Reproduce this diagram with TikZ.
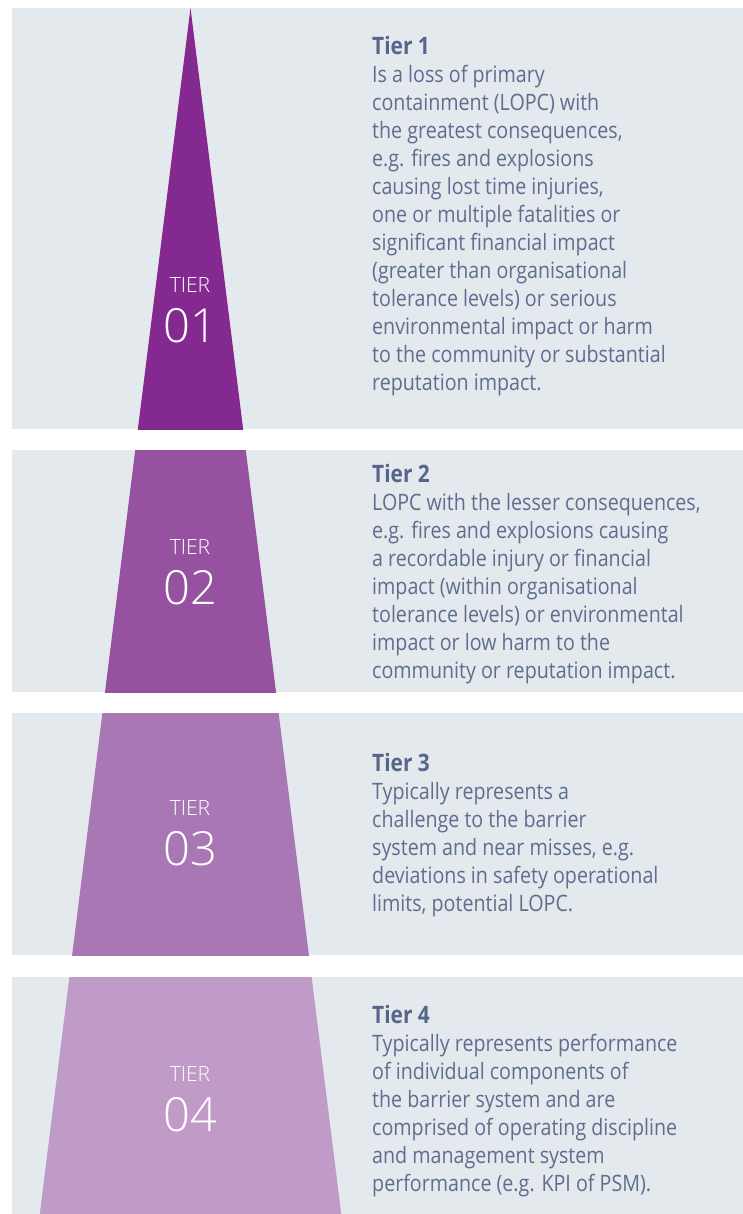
\documentclass[tikz,border=0pt]{standalone}
\usepackage{fontspec}
\setmainfont{Open Sans}[FakeStretch=0.87]
\newfontfamily\tierfont{Open Sans}[UprightFont=* Light]
\usepackage{xcolor}
\usetikzlibrary{calc}

\definecolor{panelgrey}{HTML}{E4E9EE}
\definecolor{tierone}{HTML}{84298F}
\definecolor{tiertwo}{HTML}{9652A0}
\definecolor{tierthree}{HTML}{A877B4}
\definecolor{tierfour}{HTML}{C09BC8}
\definecolor{textblue}{HTML}{5E6E8F}
\definecolor{titleblue}{HTML}{56668A}

\tikzset{
 tiertext/.style={anchor=west, inner sep=0pt, align=left, text=textblue, font=\fontsize{22.6}{28}\selectfont},
 tierword/.style={inner sep=0pt, text=white, font=\tierfont\fontsize{21}{21}\selectfont},
 tiernum/.style={inner sep=0pt, text=white, font=\tierfont\fontsize{47}{47}\selectfont},
}
\newcommand{\tiertitle}[1]{{\fontsize{24}{28}\selectfont\bfseries\color{titleblue}#1}}

\begin{document}
\begin{tikzpicture}[x=1pt, y=-1pt]
\useasboundingbox[fill=white] (0,0) rectangle (743,1214);
\foreach \top/\bot/\col in {8/429/tierone, 450/692/tiertwo, 713/955/tierthree, 977/1214/tierfour} {
 \fill[panelgrey] (12,\top) rectangle (743,\bot);
 \begin{scope}
  \clip (12,\top) rectangle (743,\bot);
  \fill[\col] (190.5,8) -- (39.75,1214) -- (341.25,1214) -- cycle;
 \end{scope}
}

\node[tierword] (word1) at (190,285) {TIER};
\node[tiernum] (num1) at (190,326) {01};
\node[tierword] (word2) at (190,547) {TIER};
\node[tiernum] (num2) at (190,588) {02};
\node[tierword] (word3) at (190,808) {TIER};
\node[tiernum] (num3) at (190,849) {03};
\node[tierword] (word4) at (190,1074) {TIER};
\node[tiernum] (num4) at (190,1115) {04};

\node[tiertext] (desc1) at (372,216) {\tiertitle{Tier 1}\\
Is a loss of primary\\
containment (LOPC) with\\
the greatest consequences,\\
e.g. fires and explosions\\
causing lost time injuries,\\
one or multiple fatalities or\\
significant financial impact\\
(greater than organisational\\
tolerance levels) or serious\\
environmental impact or harm\\
to the community or substantial\\
reputation impact.};
\node[tiertext] (desc2) at (372,574) {\tiertitle{Tier 2}\\
LOPC with the lesser consequences,\\
e.g. fires and explosions causing\\
a recordable injury or financial\\
impact (within organisational\\
tolerance levels) or environmental\\
impact or low harm to the\\
community or reputation impact.};
\node[tiertext] (desc3) at (372,835) {\tiertitle{Tier 3}\\
Typically represents a\\
challenge to the barrier\\
system and near misses, e.g.\\
deviations in safety operational\\
limits, potential LOPC.};
\node[tiertext] (desc4) at (372,1101) {\tiertitle{Tier 4}\\
Typically represents performance\\
of individual components of\\
the barrier system and are\\
comprised of operating discipline\\
and management system\\
performance (e.g. KPI of PSM).};
\end{tikzpicture}
\end{document}
